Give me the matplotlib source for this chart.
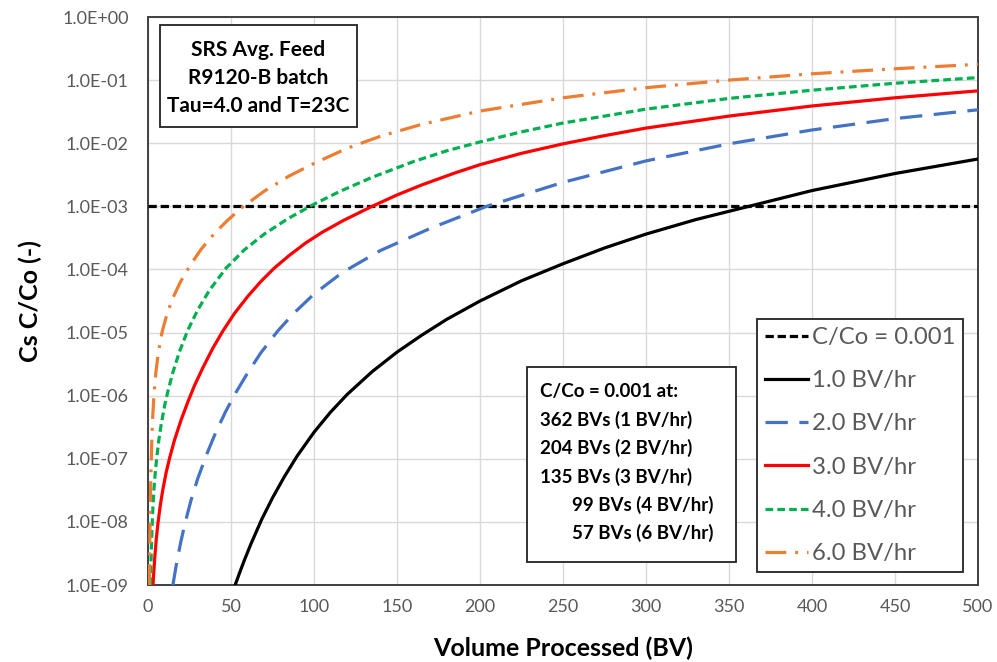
import matplotlib
matplotlib.use("Agg")
import matplotlib.pyplot as plt
from matplotlib.patches import Rectangle
from matplotlib.ticker import FixedLocator, FixedFormatter

plt.rcParams['font.family'] = ['Lato', 'DejaVu Sans']

# Breakthrough curves: bed volumes processed (BV) and log10 of Cs C/Co
bv_1 = [52.5, 55, 58, 62, 68.5, 75, 82, 90, 100, 110, 120, 135, 150, 165, 180, 200, 225, 250, 275, 300,
        330, 362, 400, 450, 500]
lg_1 = [-9.0, -8.82, -8.61, -8.35, -7.96, -7.62, -7.29, -6.95, -6.58, -6.26, -5.98, -5.62, -5.31, -5.04,
        -4.79, -4.50, -4.18, -3.91, -3.66, -3.44, -3.21, -3.0, -2.75, -2.48, -2.25]

bv_2 = [15, 17, 19.5, 22.3, 26, 30, 35.5, 41, 47, 52.5, 60, 68, 78, 88, 100, 117, 140, 170, 204, 250, 300,
        350, 400, 450, 500]
lg_2 = [-9.0, -8.69, -8.35, -8.02, -7.65, -7.31, -6.92, -6.57, -6.24, -5.97, -5.64, -5.32, -4.98, -4.69,
        -4.39, -4.05, -3.70, -3.35, -3.0, -2.62, -2.28, -2.01, -1.79, -1.61, -1.47]

bv_3 = [3, 4, 5, 6, 7.5, 9, 11, 13, 16, 20, 24, 28, 33, 39, 45, 52, 60, 68, 76, 85, 95, 105, 118, 135, 150,
        165, 185, 200, 225, 250, 275, 300, 350, 400, 450, 500]
lg_3 = [-9.0, -8.59, -8.27, -8.02, -7.72, -7.48, -7.21, -6.99, -6.70, -6.38, -6.10, -5.84, -5.56, -5.25,
        -4.98, -4.70, -4.43, -4.19, -3.98, -3.78, -3.58, -3.41, -3.22, -3.0, -2.82, -2.66, -2.47, -2.34,
        -2.16, -2.01, -1.88, -1.76, -1.57, -1.41, -1.28, -1.17]

bv_4 = [1.5, 1.8, 2.1, 2.5, 3.0, 3.6, 4.4, 5.4, 6.6, 8, 10, 12, 15, 19, 24, 30, 37, 47, 58, 70, 84, 99, 115,
        135, 160, 180, 200, 225, 250, 300, 350, 400, 450, 500]
lg_4 = [-9.0, -8.64, -8.35, -8.04, -7.75, -7.48, -7.21, -6.95, -6.69, -6.45, -6.16, -5.93, -5.63, -5.30,
        -4.96, -4.64, -4.33, -3.98, -3.69, -3.44, -3.20, -2.98, -2.77, -2.54, -2.29, -2.12, -1.98, -1.82,
        -1.68, -1.46, -1.29, -1.16, -1.05, -0.96]

bv_6 = [0.8, 1.0, 1.3, 1.7, 2.2, 2.8, 3.6, 4.7, 6.2, 8.5, 11.5, 15, 19.5, 25, 32, 40, 48, 57, 70, 85, 100,
        120, 140, 165, 200, 250, 300, 350, 400, 450, 500]
lg_6 = [-9.0, -8.49, -7.89, -7.30, -6.78, -6.36, -5.98, -5.64, -5.32, -4.99, -4.70, -4.45, -4.20, -3.95,
        -3.68, -3.43, -3.22, -3.01, -2.76, -2.52, -2.32, -2.08, -1.89, -1.70, -1.49, -1.28, -1.12, -1.00,
        -0.90, -0.82, -0.75]

threshold = 1.0e-3

series_labels = ["1.0 BV/hr", "2.0 BV/hr", "3.0 BV/hr", "4.0 BV/hr", "6.0 BV/hr"]
x_ticks = [0, 50, 100, 150, 200, 250, 300, 350, 400, 450, 500]
y_ticks = [1e-9, 1e-8, 1e-7, 1e-6, 1e-5, 1e-4, 1e-3, 1e-2, 1e-1, 1e0]
y_tick_labels = ["1.0E-09", "1.0E-08", "1.0E-07", "1.0E-06", "1.0E-05", "1.0E-04",
                 "1.0E-03", "1.0E-02", "1.0E-01", "1.0E+00"]

info_title = "C/Co = 0.001 at:"
info_lines = ["362 BVs (1 BV/hr)", "204 BVs (2 BV/hr)", "135 BVs (3 BV/hr)",
              "99 BVs (4 BV/hr)", "57 BVs (6 BV/hr)"]
case_lines = ["SRS Avg. Feed", "R9120-B batch", "Tau=4.0 and T=23C"]


def to_ratio(logs):
    return [10.0 ** v for v in logs]


W, H = 997, 662
fig = plt.figure(figsize=(W / 100, H / 100), dpi=100)
L, R, T, B = 148, 978, 17, 585
ax = fig.add_axes([L / W, 1 - B / H, (R - L) / W, (B - T) / H])

lw = 2.3
ax.axhline(threshold, color="black", lw=lw, dashes=(2.6, 1.2), label="C/Co = 0.001", zorder=3)
ax.plot(bv_1, to_ratio(lg_1), color="black", lw=lw, label=series_labels[0], zorder=4)
ax.plot(bv_2, to_ratio(lg_2), color="#4472C4", lw=lw, dashes=(7.0, 3.6), label=series_labels[1], zorder=4)
ax.plot(bv_3, to_ratio(lg_3), color="#FF0000", lw=lw, label=series_labels[2], zorder=4)
ax.plot(bv_4, to_ratio(lg_4), color="#00B050", lw=lw, dashes=(2.4, 1.3), label=series_labels[3], zorder=4)
ax.plot(bv_6, to_ratio(lg_6), color="#ED7D31", lw=lw, dashes=(6.5, 2.8, 0.9, 2.8),
        label=series_labels[4], zorder=4)

ax.set_yscale("log")
ax.set_xlim(0, 500)
ax.set_ylim(1e-9, 1e0)
ax.xaxis.set_major_locator(FixedLocator(x_ticks))
ax.yaxis.set_major_locator(FixedLocator(y_ticks))
ax.yaxis.set_major_formatter(FixedFormatter(y_tick_labels))
ax.yaxis.set_minor_locator(FixedLocator([]))
ax.tick_params(axis="both", which="both", length=0, labelsize=13, labelcolor="#595959")
ax.tick_params(axis="y", pad=14)
ax.tick_params(axis="x", pad=10)
ax.grid(True, which="major", color="#d9d9d9", lw=1.0, zorder=0)
ax.set_axisbelow(True)
for sp in ax.spines.values():
    sp.set_color("#404040")
    sp.set_linewidth(1.4)

fig.text(563 / W, 1 - 648 / H, "Volume Processed (BV)", ha="center", va="center",
         fontsize=18, fontweight="bold", color="black")
fig.text(30 / W, 1 - 301 / H, "Cs C/Co (-)", ha="center", va="center", rotation=90,
         fontsize=18, fontweight="bold", color="black")


def ax_x(px):
    return (px - L) / (R - L)


def ax_y(py):
    return (B - py) / (B - T)


# case description box (top left)
ax.add_patch(Rectangle((ax_x(160), ax_y(127)), ax_x(357) - ax_x(160), ax_y(25) - ax_y(127),
                       transform=ax.transAxes, facecolor="white", edgecolor="#222222", lw=1.3, zorder=6))
for line, py in zip(case_lines, [50, 78, 106]):
    ax.text(ax_x(258.5), ax_y(py), line, transform=ax.transAxes, ha="center", va="center",
            fontsize=15, fontweight="bold", zorder=7)

# breakthrough summary box
ax.add_patch(Rectangle((ax_x(527), ax_y(562)), ax_x(736) - ax_x(527), ax_y(367) - ax_y(562),
                       transform=ax.transAxes, facecolor="white", edgecolor="#222222", lw=1.3, zorder=6))
ax.text(ax_x(540), ax_y(392), info_title, transform=ax.transAxes, ha="left", va="center",
        fontsize=13.5, fontweight="bold", zorder=7)
row_y = [420, 448, 477, 505, 533]
for i, line in enumerate(info_lines):
    if i < 3:
        ax.text(ax_x(540), ax_y(row_y[i]), line, transform=ax.transAxes, ha="left", va="center",
                fontsize=13.5, fontweight="bold", zorder=7)
    else:
        ax.text(ax_x(713), ax_y(row_y[i]), line, transform=ax.transAxes, ha="right", va="center",
                fontsize=13.5, fontweight="bold", zorder=7)

leg = ax.legend(loc="lower right", bbox_to_anchor=(ax_x(963), ax_y(572)), borderaxespad=0,
                fontsize=17.2, labelcolor="#595959", handlelength=1.8, handletextpad=0.17,
                labelspacing=0.93, borderpad=0.33, fancybox=False, framealpha=1,
                edgecolor="#222222")
leg.get_frame().set_linewidth(1.3)
leg.set_zorder(8)

fig.savefig("out.png", dpi=100)
